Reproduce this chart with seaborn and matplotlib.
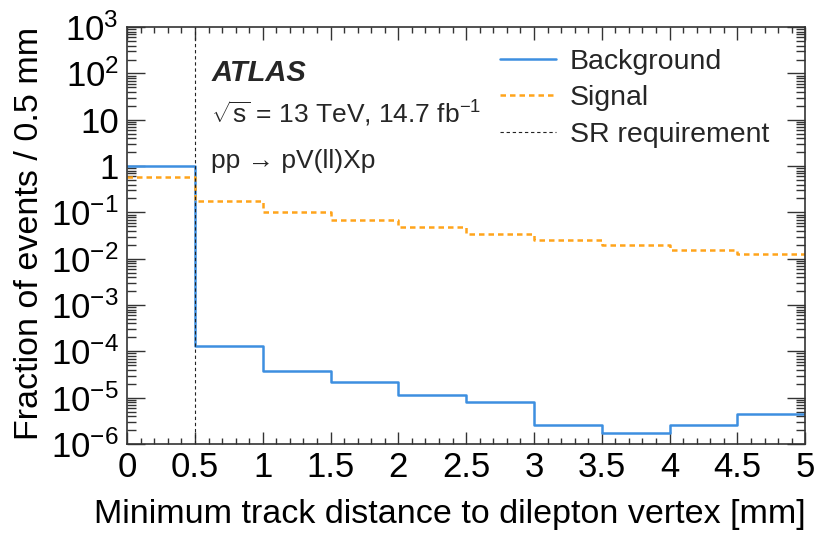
import numpy as np
import pandas as pd
import matplotlib
matplotlib.use("Agg")
import matplotlib.pyplot as plt
import matplotlib.ticker as mticker
from matplotlib.lines import Line2D
import seaborn as sns

# bin edges (mm) and fractions
bin_edges = [0.0, 0.5, 1.0, 1.5, 2.0, 2.5, 3.0, 3.5, 4.0, 4.5, 5.0]
background = [0.99, 1.3e-4, 3.7e-5, 2.2e-5, 1.15e-5, 8.0e-6, 2.6e-6, 1.7e-6, 2.6e-6, 4.5e-6]
signal = [0.57, 0.173, 0.100, 0.070, 0.048, 0.034, 0.026, 0.020, 0.0158, 0.0127]
sr_cut = 0.5

centers = [(a + b) / 2 for a, b in zip(bin_edges[:-1], bin_edges[1:])]
df = pd.DataFrame({"x": centers * 2,
                   "w": background + signal,
                   "sample": ["Background"] * len(centers) + ["Signal"] * len(centers)})

sns.set_style("ticks")
plt.rcParams["font.family"] = ["Liberation Sans", "DejaVu Sans"]
plt.rcParams["mathtext.fontset"] = "custom"
plt.rcParams["mathtext.rm"] = "Liberation Sans"
plt.rcParams["mathtext.it"] = "Liberation Sans:italic"
plt.rcParams["mathtext.bf"] = "Liberation Sans:bold"

blue = "#3d8fe0"
orange = "#ffa41b"

fig = plt.figure(figsize=(8.15, 5.33), dpi=100)
ax = fig.add_axes([0.156, 0.167, 0.832, 0.782])

sns.histplot(data=df[df["sample"] == "Background"], x="x", weights="w", bins=bin_edges,
             element="step", fill=False, color=blue, linewidth=1.8, ax=ax)
sns.histplot(data=df[df["sample"] == "Signal"], x="x", weights="w", bins=bin_edges,
             element="step", fill=False, color=orange, linewidth=1.8,
             linestyle=(0, (2.2, 1.6)), ax=ax)
ax.axvline(sr_cut, color="#222222", linestyle=(0, (3, 2.5)), linewidth=0.8)

ax.set_yscale("log")
ax.set_xlim(0, 5)
ax.set_ylim(1e-6, 1e3)

def ylab(v, pos):
    e = int(round(np.log10(v)))
    if e == 0:
        return "1"
    if e == 1:
        return "10"
    return r"$10^{%d}$" % e

ax.yaxis.set_major_locator(mticker.LogLocator(base=10, numticks=20))
ax.yaxis.set_minor_locator(mticker.LogLocator(base=10, subs=np.arange(2, 10), numticks=200))
ax.yaxis.set_major_formatter(mticker.FuncFormatter(ylab))
ax.yaxis.set_minor_formatter(mticker.NullFormatter())
ax.xaxis.set_major_locator(mticker.MultipleLocator(0.5))
ax.xaxis.set_minor_locator(mticker.MultipleLocator(0.1))
ax.xaxis.set_major_formatter(mticker.FuncFormatter(lambda v, p: ("%g" % v)))

ax.tick_params(which="both", direction="in", top=True, right=True, labelsize=25,
               width=1, color="#333333", labelcolor="black")
ax.tick_params(axis="x", which="major", length=9, pad=5)
ax.tick_params(axis="x", which="minor", length=4.5)
ax.tick_params(axis="y", which="major", length=13, pad=6)
ax.tick_params(axis="y", which="minor", length=6.5)
for s in ax.spines.values():
    s.set_linewidth(1.2)
    s.set_color("#333333")

ax.set_xlabel("Minimum track distance to dilepton vertex [mm]", fontsize=24.5, loc="right",
              labelpad=11, color="black")
ax.set_ylabel("Fraction of events / 0.5 mm", fontsize=24.5, loc="top", labelpad=4, color="black")

ax.text(0.124, 0.89, "ATLAS", transform=ax.transAxes, fontsize=21, fontweight="bold",
        fontstyle="italic", va="center")
ax.text(0.124, 0.791, r"$\sqrt{\rm s}$ = 13 TeV, 14.7 $\rm fb^{-1}$", transform=ax.transAxes,
        fontsize=19, va="center")
ax.text(0.124, 0.679, "pp \u2192 pV(ll)Xp", transform=ax.transAxes, fontsize=19, va="center")

handles = [Line2D([], [], color=blue, linewidth=1.8),
           Line2D([], [], color=orange, linewidth=1.8, linestyle=(0, (2.2, 1.6))),
           Line2D([], [], color="#222222", linewidth=0.8, linestyle=(0, (3, 2.5)))]
ax.legend(handles, ["Background", "Signal", "SR requirement"], loc="upper right",
          bbox_to_anchor=(0.985, 1.01), frameon=False, fontsize=20.5, handlelength=1.95,
          handletextpad=0.5, labelspacing=0.38)

fig.savefig("out.png", dpi=100)
